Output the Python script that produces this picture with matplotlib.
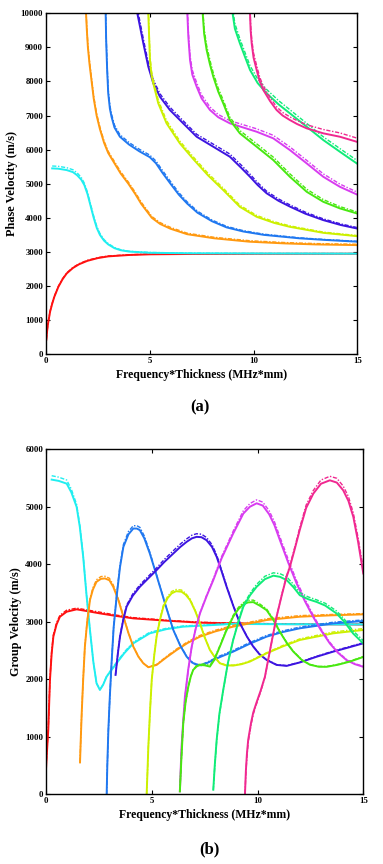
"""Phase (a) and group (b) velocity dispersion curves, solid vs dash-dot per mode."""
import matplotlib
matplotlib.use("Agg")
import matplotlib.pyplot as plt

plt.rcParams["font.family"] = ["Liberation Serif", "DejaVu Serif"]
plt.rcParams["font.weight"] = "bold"

# ---------------- phase velocity (a) ----------------
PH_RED_FD = [0.02, 0.05, 0.1, 0.2, 0.3, 0.4, 0.6, 0.8, 1.0, 1.3, 1.6, 2.0, 2.5, 3.0, 4.0, 5.0, 7.0, 10.0, 15.0]
PH_RED_V = [430, 650, 900, 1250, 1480, 1680, 1980, 2200, 2370, 2530, 2640, 2740, 2820, 2870, 2910, 2930, 2940, 2945, 2948]
PH_RED_VD = [440, 660, 915, 1265, 1495, 1695, 1995, 2215, 2385, 2545, 2655, 2755, 2832, 2880, 2918, 2937, 2945, 2950, 2952]

PH_CYA_FD = [0.3, 0.6, 1.0, 1.3, 1.5, 1.7, 1.85, 2.0, 2.15, 2.3, 2.45, 2.6, 2.8, 3.0, 3.3, 3.6, 4.0, 5.0, 7.0, 10.0, 15.0]
PH_CYA_V = [5450, 5440, 5400, 5340, 5250, 5120, 4960, 4700, 4350, 4000, 3700, 3500, 3330, 3220, 3110, 3050, 3010, 2975, 2960, 2955, 2950]
PH_CYA_VD = [5520, 5510, 5470, 5410, 5320, 5185, 5015, 4750, 4400, 4050, 3750, 3540, 3360, 3245, 3130, 3065, 3020, 2985, 2965, 2958, 2952]

PH_ORA_FD = [1.93, 1.97, 2.02, 2.1, 2.2, 2.3, 2.44, 2.6, 2.8, 3.0, 3.3, 3.6, 3.97, 4.3, 4.6, 5.1, 5.5, 6.0, 6.8, 8.1, 9.8, 11.5, 13.0, 15.0]
PH_ORA_V = [10000, 9500, 9000, 8500, 8000, 7500, 7000, 6600, 6200, 5900, 5600, 5300, 5000, 4700, 4400, 4000, 3820, 3680, 3520, 3400, 3300, 3250, 3220, 3200]
PH_ORA_VD = [10080, 9580, 9080, 8580, 8080, 7570, 7060, 6660, 6250, 5950, 5650, 5350, 5050, 4750, 4450, 4040, 3860, 3720, 3550, 3430, 3330, 3275, 3245, 3225]

PH_BLU_FD = [2.876, 2.9, 2.95, 3.0, 3.08, 3.16, 3.3, 3.56, 4.0, 4.5, 5.0, 5.3, 5.6, 6.0, 6.4, 6.8, 7.3, 8.0, 8.7, 9.5, 10.5, 12.2, 13.5, 15.0]
PH_BLU_V = [10000, 9200, 8300, 7650, 7200, 6960, 6650, 6380, 6150, 5950, 5780, 5600, 5330, 5000, 4680, 4420, 4150, 3900, 3720, 3600, 3500, 3400, 3350, 3300]
PH_BLU_VD = [10150, 9350, 8420, 7750, 7290, 7040, 6720, 6440, 6210, 6010, 5840, 5665, 5400, 5065, 4740, 4470, 4195, 3935, 3750, 3625, 3520, 3415, 3362, 3312]

PH_VIO_FD = [4.40, 4.5, 4.69, 4.93, 5.17, 5.49, 5.97, 6.61, 7.26, 8.06, 8.86, 9.4, 9.83, 10.2, 10.63, 11.2, 11.75, 12.5, 13.36, 14.2, 14.97]
PH_VIO_V = [10000, 9700, 9120, 8433, 7945, 7552, 7162, 6771, 6378, 6085, 5791, 5470, 5204, 4960, 4720, 4500, 4330, 4120, 3933, 3790, 3689]
PH_VIO_VD = [10150, 9840, 9250, 8550, 8050, 7640, 7245, 6845, 6450, 6160, 5870, 5550, 5280, 5030, 4780, 4555, 4380, 4165, 3970, 3822, 3718]

PH_YEL_FD = [4.93, 4.97, 5.01, 5.08, 5.17, 5.41, 5.81, 6.45, 7.1, 7.8, 8.54, 9.34, 10.15, 11.0, 11.75, 13.36, 14.97]
PH_YEL_V = [10000, 9300, 8629, 8200, 7945, 7358, 6771, 6184, 5720, 5250, 4814, 4323, 4030, 3850, 3736, 3560, 3463]
PH_YEL_VD = [10150, 9450, 8760, 8320, 8050, 7450, 6850, 6250, 5785, 5310, 4870, 4370, 4070, 3885, 3765, 3582, 3482]

PH_MAG_FD = [6.81, 6.86, 6.94, 7.05, 7.26, 7.5, 7.9, 8.3, 8.86, 9.34, 10.15, 10.95, 11.75, 12.56, 13.36, 14.16, 14.97]
PH_MAG_V = [10000, 9300, 8629, 8200, 7846, 7500, 7162, 6950, 6771, 6680, 6525, 6331, 5988, 5597, 5204, 4910, 4687]
PH_MAG_VD = [10150, 9450, 8760, 8330, 7960, 7600, 7250, 7030, 6850, 6760, 6610, 6420, 6080, 5685, 5290, 4990, 4760]

PH_GRN_FD = [7.55, 7.62, 7.74, 7.9, 8.06, 8.3, 8.54, 8.86, 9.34, 10.15, 10.95, 11.75, 12.56, 13.36, 14.16, 14.97]
PH_GRN_V = [10000, 9400, 8923, 8500, 8140, 7700, 7358, 6868, 6478, 6085, 5694, 5204, 4764, 4470, 4277, 4130]
PH_GRN_VD = [10150, 9550, 9050, 8620, 8250, 7800, 7450, 6950, 6560, 6170, 5780, 5290, 4840, 4535, 4330, 4175]

PH_SPR_FD = [8.99, 9.1, 9.34, 9.6, 9.83, 10.2, 10.63, 11.2, 11.75, 12.56, 13.36, 14.16, 14.97]
PH_SPR_V = [10000, 9550, 9120, 8700, 8336, 7950, 7652, 7330, 7065, 6672, 6281, 5938, 5597]
PH_SPR_VD = [10150, 9700, 9250, 8830, 8460, 8070, 7765, 7440, 7170, 6770, 6375, 6030, 5690]

PH_PNK_FD = [9.83, 9.86, 9.91, 10.0, 10.15, 10.3, 10.47, 10.8, 11.11, 11.4, 11.75, 12.1, 12.56, 13.36, 14.16, 14.97]
PH_PNK_V = [10000, 9500, 9120, 8700, 8336, 8000, 7749, 7420, 7162, 7000, 6868, 6750, 6624, 6478, 6378, 6231]
PH_PNK_VD = [10150, 9650, 9250, 8830, 8460, 8120, 7860, 7520, 7255, 7090, 6960, 6850, 6730, 6590, 6490, 6340]

# ---------------- group velocity (b) ----------------
GR_RED_FD = [0.0, 0.05, 0.11, 0.19, 0.27, 0.35, 0.5, 0.66, 0.98, 1.45, 2.0, 2.55, 3.3, 4.13, 5.7, 7.28, 8.85, 10.5, 12.5, 15.0]
GR_RED_V = [420, 750, 1120, 1990, 2450, 2740, 2950, 3086, 3173, 3214, 3180, 3144, 3100, 3057, 3017, 2982, 2970, 2960, 2955, 2950]
GR_RED_VD = [430, 770, 1150, 2020, 2480, 2770, 2980, 3110, 3200, 3235, 3200, 3165, 3115, 3070, 3025, 2990, 2975, 2965, 2958, 2952]

GR_CYA_FD = [0.27, 0.6, 0.98, 1.2, 1.45, 1.6, 1.76, 1.92, 2.08, 2.24, 2.39, 2.55, 2.7, 2.87, 3.1, 3.34, 3.7, 4.13, 4.91, 5.7, 6.49, 8.85, 11.0, 15.0]
GR_CYA_V = [5472, 5450, 5402, 5250, 4997, 4650, 4128, 3450, 2855, 2300, 1928, 1812, 1900, 2044, 2160, 2276, 2450, 2623, 2797, 2870, 2913, 2960, 2955, 2950]
GR_CYA_VD = [5540, 5515, 5465, 5305, 5040, 4680, 4150, 3460, 2860, 2300, 1930, 1815, 1905, 2055, 2175, 2295, 2470, 2645, 2815, 2885, 2925, 2968, 2960, 2955]

GR_ORA_FD = [1.61, 1.65, 1.69, 1.76, 1.84, 1.95, 2.08, 2.22, 2.39, 2.6, 2.79, 3.0, 3.18, 3.42, 3.66, 3.9, 4.13, 4.37, 4.6, 4.84, 5.23, 5.7, 6.18, 6.7, 7.28, 8.0, 8.85, 10.43, 12.0, 13.5, 15.0]
GR_ORA_V = [550, 1000, 1407, 2000, 2565, 3000, 3376, 3560, 3694, 3745, 3752, 3720, 3607, 3380, 3086, 2800, 2565, 2390, 2276, 2206, 2247, 2380, 2507, 2630, 2739, 2830, 2913, 3028, 3086, 3110, 3127]
GR_ORA_VD = [560, 1010, 1420, 2010, 2580, 3020, 3400, 3590, 3730, 3785, 3790, 3755, 3640, 3400, 3095, 2805, 2570, 2395, 2280, 2210, 2255, 2395, 2525, 2650, 2760, 2850, 2935, 3050, 3105, 3125, 3140]

GR_BLU_FD = [2.87, 2.9, 2.95, 3.02, 3.1, 3.2, 3.34, 3.5, 3.66, 3.9, 4.13, 4.3, 4.44, 4.65, 4.91, 5.15, 5.39, 5.7, 6.02, 6.35, 6.65, 6.9, 7.12, 7.35, 7.59, 8.2, 8.85, 9.6, 10.43, 11.2, 12.0, 13.58, 15.0]
GR_BLU_V = [0, 500, 1117, 1700, 2276, 2900, 3434, 3950, 4302, 4520, 4621, 4620, 4592, 4450, 4186, 3900, 3607, 3230, 2855, 2580, 2391, 2290, 2247, 2240, 2276, 2380, 2478, 2610, 2739, 2820, 2884, 2970, 3011]
GR_BLU_VD = [0, 480, 1100, 1690, 2270, 2910, 3460, 3980, 4340, 4570, 4670, 4670, 4640, 4490, 4210, 3915, 3615, 3235, 2860, 2590, 2400, 2300, 2260, 2255, 2290, 2400, 2500, 2630, 2760, 2840, 2905, 2990, 3030]

GR_VIO_FD = [3.29, 3.4, 3.5, 3.65, 3.81, 4.1, 4.44, 4.8, 5.23, 5.6, 6.02, 6.35, 6.65, 6.9, 7.12, 7.35, 7.59, 7.85, 8.07, 8.3, 8.54, 8.85, 9.17, 9.5, 9.8, 10.1, 10.43, 10.9, 11.38, 12.0, 12.8, 13.58, 14.3, 15.0]
GR_VIO_V = [2073, 2450, 2739, 3020, 3260, 3450, 3607, 3740, 3897, 4040, 4186, 4300, 4389, 4450, 4476, 4470, 4418, 4300, 4128, 3880, 3607, 3280, 2970, 2740, 2565, 2430, 2334, 2247, 2230, 2290, 2390, 2478, 2550, 2623]
GR_VIO_VD = [2080, 2460, 2750, 3040, 3285, 3480, 3640, 3775, 3935, 4085, 4235, 4350, 4440, 4505, 4530, 4522, 4465, 4340, 4160, 3900, 3620, 3285, 2975, 2745, 2570, 2435, 2340, 2252, 2235, 2295, 2398, 2488, 2560, 2635]

GR_YEL_FD = [4.76, 4.8, 4.84, 4.92, 5.0, 5.12, 5.23, 5.39, 5.55, 5.75, 5.94, 6.15, 6.41, 6.6, 6.81, 7.05, 7.28, 7.5, 7.75, 8.0, 8.22, 8.5, 8.85, 9.25, 9.64, 10.43, 11.2, 12.0, 13.58, 15.0]
GR_YEL_V = [0, 400, 828, 1450, 1986, 2420, 2739, 3030, 3260, 3410, 3492, 3530, 3521, 3470, 3376, 3190, 2970, 2730, 2507, 2370, 2276, 2240, 2235, 2260, 2305, 2449, 2570, 2681, 2797, 2855]
GR_YEL_VD = [0, 390, 815, 1440, 1980, 2425, 2750, 3050, 3285, 3440, 3525, 3560, 3550, 3495, 3395, 3200, 2975, 2735, 2510, 2375, 2282, 2247, 2243, 2268, 2315, 2460, 2585, 2700, 2820, 2880]

GR_MAG_FD = [6.33, 6.37, 6.41, 6.49, 6.57, 6.73, 6.89, 7.08, 7.28, 7.6, 7.91, 8.3, 8.85, 9.33, 9.64, 9.96, 10.25, 10.55, 10.8, 11.06, 11.45, 11.85, 12.25, 12.63, 13.0, 13.42, 13.8, 14.21, 14.6, 15.0]
GR_MAG_V = [46, 450, 828, 1280, 1697, 2180, 2565, 2880, 3144, 3450, 3723, 4100, 4534, 4881, 5000, 5060, 5020, 4870, 4680, 4417, 4030, 3664, 3350, 3084, 2850, 2620, 2460, 2330, 2260, 2214]
GR_MAG_VD = [40, 430, 800, 1260, 1680, 2170, 2560, 2880, 3150, 3465, 3745, 4130, 4575, 4930, 5055, 5120, 5080, 4930, 4740, 4475, 4085, 3710, 3390, 3115, 2875, 2640, 2475, 2342, 2270, 2222]

GR_GRN_FD = [6.33, 6.4, 6.49, 6.6, 6.73, 6.85, 6.96, 7.12, 7.28, 7.5, 7.75, 7.95, 8.22, 8.5, 8.85, 9.1, 9.33, 9.55, 9.8, 10.1, 10.43, 10.75, 11.06, 11.4, 11.69, 12.1, 12.48, 12.9, 13.27, 13.8, 14.37, 15.0]
GR_GRN_V = [46, 600, 1233, 1600, 1870, 2050, 2160, 2220, 2247, 2240, 2218, 2330, 2565, 2820, 3086, 3220, 3300, 3335, 3340, 3280, 3200, 3030, 2820, 2620, 2480, 2330, 2250, 2215, 2214, 2250, 2305, 2385]
GR_GRN_VD = [46, 590, 1220, 1590, 1865, 2050, 2165, 2235, 2265, 2260, 2240, 2345, 2580, 2840, 3110, 3250, 3330, 3370, 3375, 3310, 3220, 3045, 2830, 2628, 2486, 2336, 2256, 2221, 2220, 2257, 2312, 2393]

GR_SPR_FD = [7.91, 7.98, 8.07, 8.2, 8.38, 8.6, 8.85, 9.1, 9.33, 9.65, 9.96, 10.35, 10.75, 11.06, 11.38, 11.7, 12.0, 12.4, 12.79, 13.2, 13.74, 14.1, 14.52, 15.0]
GR_SPR_V = [75, 500, 944, 1400, 1812, 2280, 2681, 3000, 3260, 3460, 3607, 3740, 3800, 3780, 3723, 3600, 3460, 3390, 3344, 3280, 3142, 3000, 2794, 2620]
GR_SPR_VD = [70, 480, 925, 1385, 1800, 2275, 2685, 3015, 3285, 3495, 3650, 3790, 3850, 3835, 3780, 3650, 3505, 3430, 3380, 3320, 3185, 3045, 2840, 2670]

GR_PNK_FD = [9.41, 9.45, 9.5, 9.56, 9.7, 9.8, 9.96, 10.15, 10.35, 10.6, 10.9, 11.14, 11.35, 11.53, 11.75, 12.0, 12.3, 12.64, 13.0, 13.42, 13.75, 14.05, 14.3, 14.53, 14.75, 15.0]
GR_PNK_V = [17, 400, 700, 944, 1250, 1420, 1600, 1800, 2040, 2520, 3084, 3450, 3750, 3953, 4250, 4600, 4980, 5229, 5400, 5460, 5420, 5287, 5100, 4823, 4400, 3839]
GR_PNK_VD = [10, 360, 650, 900, 1210, 1390, 1575, 1780, 2030, 2515, 3085, 3460, 3770, 3975, 4280, 4640, 5030, 5285, 5465, 5530, 5495, 5360, 5175, 4890, 4470, 3920]

COLORS = {
    "red": "#ff1010", "cya": "#20eef0", "ora": "#ff9910", "blu": "#2078f0", "vio": "#3c14e0",
    "yel": "#ccf000", "mag": "#d83cf0", "grn": "#48e810", "spr": "#10ec78", "pnk": "#f02890",
}

PHASE = [
    ("red", PH_RED_FD, PH_RED_V, PH_RED_VD), ("cya", PH_CYA_FD, PH_CYA_V, PH_CYA_VD),
    ("ora", PH_ORA_FD, PH_ORA_V, PH_ORA_VD), ("blu", PH_BLU_FD, PH_BLU_V, PH_BLU_VD),
    ("vio", PH_VIO_FD, PH_VIO_V, PH_VIO_VD), ("yel", PH_YEL_FD, PH_YEL_V, PH_YEL_VD),
    ("mag", PH_MAG_FD, PH_MAG_V, PH_MAG_VD), ("grn", PH_GRN_FD, PH_GRN_V, PH_GRN_VD),
    ("spr", PH_SPR_FD, PH_SPR_V, PH_SPR_VD), ("pnk", PH_PNK_FD, PH_PNK_V, PH_PNK_VD),
]
GROUP = [
    ("red", GR_RED_FD, GR_RED_V, GR_RED_VD), ("cya", GR_CYA_FD, GR_CYA_V, GR_CYA_VD),
    ("ora", GR_ORA_FD, GR_ORA_V, GR_ORA_VD), ("blu", GR_BLU_FD, GR_BLU_V, GR_BLU_VD),
    ("vio", GR_VIO_FD, GR_VIO_V, GR_VIO_VD), ("yel", GR_YEL_FD, GR_YEL_V, GR_YEL_VD),
    ("mag", GR_MAG_FD, GR_MAG_V, GR_MAG_VD), ("grn", GR_GRN_FD, GR_GRN_V, GR_GRN_VD),
    ("spr", GR_SPR_FD, GR_SPR_V, GR_SPR_VD), ("pnk", GR_PNK_FD, GR_PNK_V, GR_PNK_VD),
]


def draw(ax, modes, ymax, ylabel):
    for key, fd, v, vd in modes:
        c = COLORS[key]
        ax.plot(fd, v, color=c, lw=1.4, solid_joinstyle="round")
        ax.plot(fd, vd, color=c, lw=1.0, dashes=(3, 1.2, 1, 1.2))
    ax.set_xlim(0, 15)
    ax.set_ylim(0, ymax)
    ax.set_xticks([0, 5, 10, 15])
    ax.set_yticks(range(0, ymax + 1, 1000))
    ax.tick_params(direction="in", length=3, width=0.8, top=True, right=True,
                   labelsize=6.3, pad=2)
    for lab in ax.get_xticklabels() + ax.get_yticklabels():
        lab.set_fontweight("bold")
    for s in ax.spines.values():
        s.set_linewidth(1.0)
    ax.set_xlabel("Frequency*Thickness (MHz*mm)", fontsize=8.5, fontweight="bold", labelpad=3)
    ax.set_ylabel(ylabel, fontsize=8.8, fontweight="bold", labelpad=2)


fig = plt.figure(figsize=(3.83, 8.64), dpi=100)
ax1 = fig.add_axes([0.120, 0.590, 0.813, 0.3947])
ax2 = fig.add_axes([0.120, 0.081, 0.8285, 0.399])
draw(ax1, PHASE, 10000, "Phase Velocity (m/s)")
draw(ax2, GROUP, 6000, "Group Velocity (m/s)")
fig.text(0.522, 1 - 407 / 864, "(a)", ha="center", va="center", fontsize=12, fontweight="bold")
fig.text(0.548, 1 - 849 / 864, "(b)", ha="center", va="center", fontsize=12, fontweight="bold")
fig.savefig("out.png", dpi=100)
